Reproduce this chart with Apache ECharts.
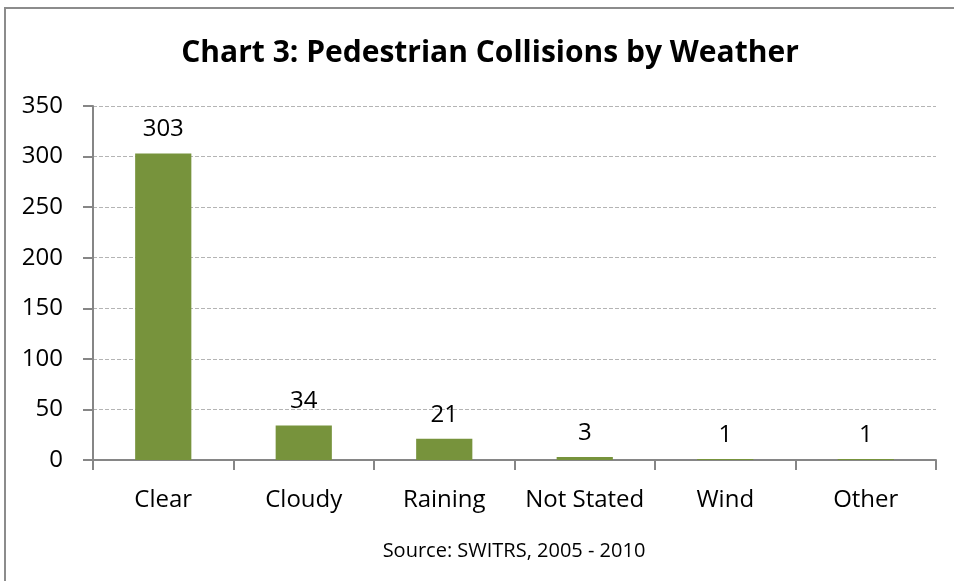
<!DOCTYPE html>
<html>
<head>
<meta charset="utf-8">
<script src="https://cdn.jsdelivr.net/npm/echarts@6/dist/echarts.min.js"></script>
<style>
  html, body { margin: 0; padding: 0; background: #fff; overflow: hidden; }
  #main { width: 954px; height: 581px; }
</style>
</head>
<body>
<div id="main"></div>
<script>
// data
const categories = ['Clear', 'Cloudy', 'Raining', 'Not Stated', 'Wind', 'Other']
const collisions = [303, 34, 21, 3, 1, 1]
const titleText = 'Chart 3: Pedestrian Collisions by Weather'
const sourceText = 'Source: SWITRS, 2005 - 2010'

const font = '"Open Sans", "Noto Sans", sans-serif'

const chart = echarts.init(document.getElementById('main'))
chart.setOption({
  animation: false,
  title: {
    text: titleText,
    left: 485,
    textAlign: 'center',
    top: 33,
    textStyle: { fontFamily: font, fontSize: 30, fontWeight: 'bold', color: '#000' }
  },
  graphic: [
    {
      type: 'rect',
      shape: { x: 5, y: 8, width: 1000, height: 620 },
      style: { fill: 'none', stroke: '#8c8c8c', lineWidth: 2 },
      silent: true
    },
    {
      type: 'text',
      x: 514,
      y: 551,
      style: {
        text: sourceText, fontFamily: font, fontSize: 20, fill: '#000',
        align: 'center', verticalAlign: 'middle'
      }
    }
  ],
  grid: { left: 93, right: 18, top: 106, bottom: 121 },
  xAxis: {
    type: 'category',
    data: categories,
    axisLine: { lineStyle: { color: '#868686', width: 2 } },
    axisTick: { show: true, interval: 0, length: 10, lineStyle: { color: '#868686', width: 2 } },
    axisLabel: { interval: 0, fontFamily: font, fontSize: 24, color: '#000', margin: 28 }
  },
  yAxis: {
    type: 'value',
    min: 0,
    max: 350,
    interval: 50,
    axisLine: { show: true, lineStyle: { color: '#868686', width: 2 } },
    axisTick: { show: true, length: 10, lineStyle: { color: '#868686', width: 2 } },
    axisLabel: { fontFamily: font, fontSize: 24, color: '#000', margin: 30 },
    splitLine: { lineStyle: { color: '#b4b4b4', type: [4, 2], width: 1 } }
  },
  series: [
    {
      type: 'bar',
      data: collisions,
      barCategoryGap: '60%',
      itemStyle: { color: '#77933c' },
      label: {
        show: true,
        position: 'top',
        distance: 12,
        fontFamily: font,
        fontSize: 24,
        color: '#000'
      }
    }
  ]
})
</script>
</body>
</html>
